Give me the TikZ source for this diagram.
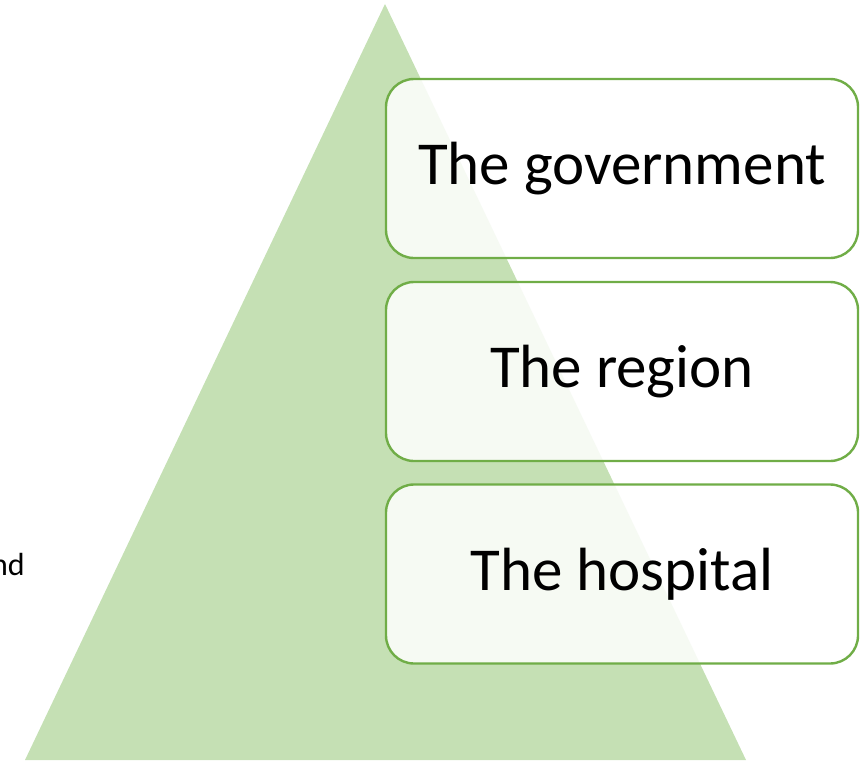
\documentclass[tikz,border=0pt]{standalone}
\usepackage{fontspec}
\setmainfont{Carlito}
\definecolor{trifill}{HTML}{C5E0B4}
\definecolor{boxline}{HTML}{70AD47}
\begin{document}
\begin{tikzpicture}[x=1pt,y=-1pt,
  levelbox/.style={draw=boxline, line width=2.4pt, fill=white, fill opacity=0.85, text opacity=1,
    rounded corners=28pt, minimum width=472pt, minimum height=179pt, inner sep=0pt,
    font=\fontsize{61}{70}\selectfont, text=black}]
\useasboundingbox (0,0) rectangle (866,760);
\fill[trifill] (385,4) -- (25,760) -- (746,760) -- cycle;
\node[levelbox] (gov) at (622,168.5) {The government};
\node[levelbox] (reg) at (622,371.5) {The region};
\node[levelbox] (hos) at (622,574) {The hospital};
\node[anchor=base east, inner sep=0pt, font=\fontsize{32}{36}\selectfont] (nd) at (25,575) {nd};
\end{tikzpicture}
\end{document}
